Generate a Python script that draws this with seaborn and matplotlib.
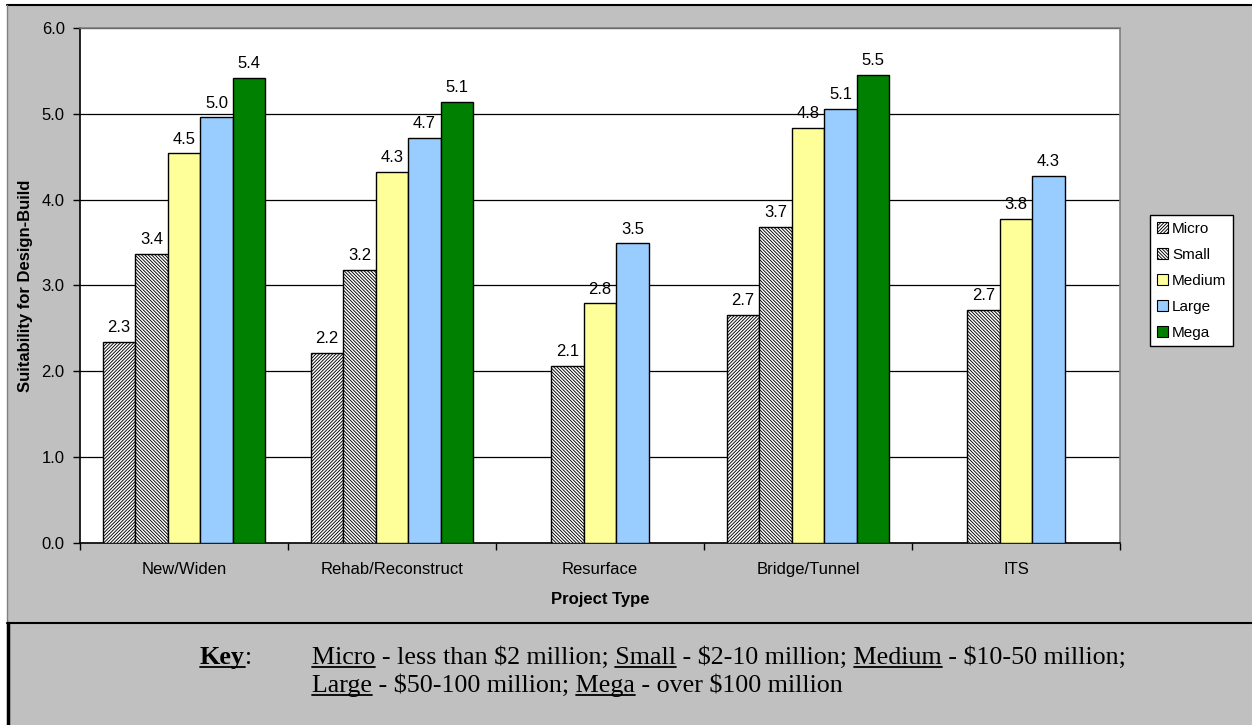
import numpy as np
import pandas as pd
import matplotlib
matplotlib.use("Agg")
import matplotlib.pyplot as plt
from matplotlib.patches import Rectangle, Patch
from matplotlib.lines import Line2D
import seaborn as sns

# ---- data -------------------------------------------------------------
categories = ["New/Widen", "Rehab/Reconstruct", "Resurface", "Bridge/Tunnel", "ITS"]
sizes = ["Micro", "Small", "Medium", "Large", "Mega"]
micro = [2.34, 2.21, np.nan, 2.66, np.nan]
small = [3.37, 3.18, 2.06, 3.68, 2.71]
medium = [4.54, 4.32, 2.79, 4.84, 3.78]
large = [4.96, 4.72, 3.49, 5.06, 4.28]
mega = [5.42, 5.14, np.nan, 5.46, np.nan]
y_ticks = [0, 1, 2, 3, 4, 5, 6]

series = dict(zip(sizes, [micro, small, medium, large, mega]))
df = pd.DataFrame(
    [(c, s, v) for s in sizes for c, v in zip(categories, series[s])],
    columns=["Project Type", "Size", "Score"],
).dropna()

colors = {"Micro": "white", "Small": "white", "Medium": "#FFFF99",
          "Large": "#99CCFF", "Mega": "#008000"}
hatches = {"Micro": "/" * 10, "Small": "\\" * 10, "Medium": "",
           "Large": "", "Mega": ""}

# ---- figure -----------------------------------------------------------
W, H = 1252, 725
sns.set_theme(style="white")
plt.rcParams["font.family"] = ["Liberation Sans", "DejaVu Sans"]
plt.rcParams["hatch.linewidth"] = 0.65

fig = plt.figure(figsize=(W / 100, H / 100), dpi=100, facecolor="white")


def fx(px):
    return px / W


def fy(py):
    return 1 - py / H


GRAY = "#C0C0C0"
# chart area and key panel backgrounds (kept beneath the axes)
fig.patches.append(Rectangle((fx(7), fy(623)), fx(W - 7), fy(5) - fy(623),
                             transform=fig.transFigure, facecolor=GRAY,
                             edgecolor="none", zorder=-10))
fig.patches.append(Rectangle((fx(7), 0), fx(W - 7), fy(623),
                             transform=fig.transFigure, facecolor=GRAY,
                             edgecolor="none", zorder=-10))
fig.lines.append(Line2D([fx(7), 1], [fy(5), fy(5)], transform=fig.transFigure,
                        color="black", lw=1.5, zorder=-5))
fig.lines.append(Line2D([fx(7), fx(7)], [fy(5), fy(623)], transform=fig.transFigure,
                        color="#808080", lw=1, zorder=-5))
fig.lines.append(Line2D([fx(7), 1], [fy(623), fy(623)], transform=fig.transFigure,
                        color="black", lw=1.5, zorder=-5))
fig.lines.append(Line2D([fx(8), fx(8)], [0, fy(623)], transform=fig.transFigure,
                        color="black", lw=2.5, zorder=-5))

ax = fig.add_axes([fx(80), fy(542.6), fx(1120 - 80), fy(28.3) - fy(542.6)])
ax.set_facecolor("white")

sns.barplot(data=df, x="Project Type", y="Score", hue="Size",
            order=categories, hue_order=sizes, palette=colors,
            width=0.78, saturation=1, edgecolor="black", linewidth=1,
            legend=False, ax=ax, zorder=3)

for level, cont in zip(sizes, ax.containers):
    for bar in cont:
        bar.set_hatch(hatches[level])
    ax.bar_label(cont, fmt="%.1f", padding=5, fontsize=12, color="black")

# axes styling
ax.set_ylim(0, 6)
ax.set_xlim(-0.5, len(categories) - 0.5)
ax.set_yticks(y_ticks)
ax.set_yticklabels([f"{t:.1f}" for t in y_ticks], fontsize=12)
ax.yaxis.grid(True, color="black", lw=0.9, zorder=0)
ax.set_axisbelow(True)
ax.tick_params(axis="y", left=True, length=5, width=1, color="black", pad=6,
               labelcolor="black")
ax.set_xticks(range(len(categories)))
ax.set_xticklabels(categories, fontsize=12)
ax.tick_params(axis="x", bottom=False, pad=8, labelcolor="black")
# category boundary ticks
ax.set_xticks(np.arange(len(categories) + 1) - 0.5, minor=True)
ax.tick_params(axis="x", which="minor", bottom=True, length=5, width=1,
               color="black")
for side in ["left", "bottom"]:
    ax.spines[side].set_color("black")
    ax.spines[side].set_linewidth(1.2)
for side in ["top", "right"]:
    ax.spines[side].set_visible(True)
    ax.spines[side].set_color("#808080")
    ax.spines[side].set_linewidth(1.2)

ax.set_xlabel("Project Type", fontsize=12, fontweight="bold", labelpad=11,
              color="black")
ax.set_ylabel("Suitability for Design-Build", fontsize=12, fontweight="bold",
              labelpad=6, color="black")

# legend
handles = [Patch(facecolor=colors[s], edgecolor="black", hatch=hatches[s], lw=0.8,
                 label=s) for s in sizes]
leg = fig.legend(handles=handles, loc="upper left",
                 bbox_to_anchor=(fx(1150), fy(215)), fontsize=11,
                 frameon=True, fancybox=False, edgecolor="black",
                 framealpha=1, handlelength=0.7, handleheight=0.7,
                 handletextpad=0.3, labelspacing=0.78, borderpad=0.45,
                 borderaxespad=0)
leg.get_frame().set_linewidth(1)
for t in leg.get_texts():
    t.set_color("black")

# ---- key panel with underlined terms -----------------------------------
renderer = fig.canvas.get_renderer()
KEY_FONT = ["Liberation Serif", "DejaVu Serif"]
KEY_SIZE = 18.7


def key_text(x, base, s, weight="normal"):
    return fig.text(fx(x), fy(base), s, family=KEY_FONT, fontsize=KEY_SIZE,
                    fontweight=weight, va="baseline", ha="left", color="black",
                    parse_math=False)


def text_width(s, weight="normal"):
    t = fig.text(0, 0, s, family=KEY_FONT, fontsize=KEY_SIZE, fontweight=weight,
                 parse_math=False)
    w = t.get_window_extent(renderer).width
    t.remove()
    return w


def underline(x0, x1, base):
    fig.lines.append(Line2D([fx(x0), fx(x1)], [fy(base + 3), fy(base + 3)],
                            transform=fig.transFigure, color="black", lw=1.3))


def key_line(x, base, pieces):
    key_text(x, base, "".join(p for p, _ in pieces))
    prefix = ""
    for piece, ul in pieces:
        if ul:
            end = text_width(prefix + piece)
            start = end - text_width(piece)
            underline(x + start, x + end, base)
        prefix += piece


base1, base2 = 664, 692
key_text(200, base1, "Key", "bold")
kw = text_width("Key", "bold")
underline(200, 200 + kw, base1)
key_text(200 + kw, base1, ":")

key_line(312, base1, [("Micro", True), (" - less than $2 million; ", False),
                      ("Small", True), (" - $2-10 million; ", False),
                      ("Medium", True), (" - $10-50 million;", False)])
key_line(312, base2, [("Large", True), (" - $50-100 million; ", False),
                      ("Mega", True), (" - over $100 million", False)])

fig.savefig("out.png", dpi=100, facecolor=fig.get_facecolor())
